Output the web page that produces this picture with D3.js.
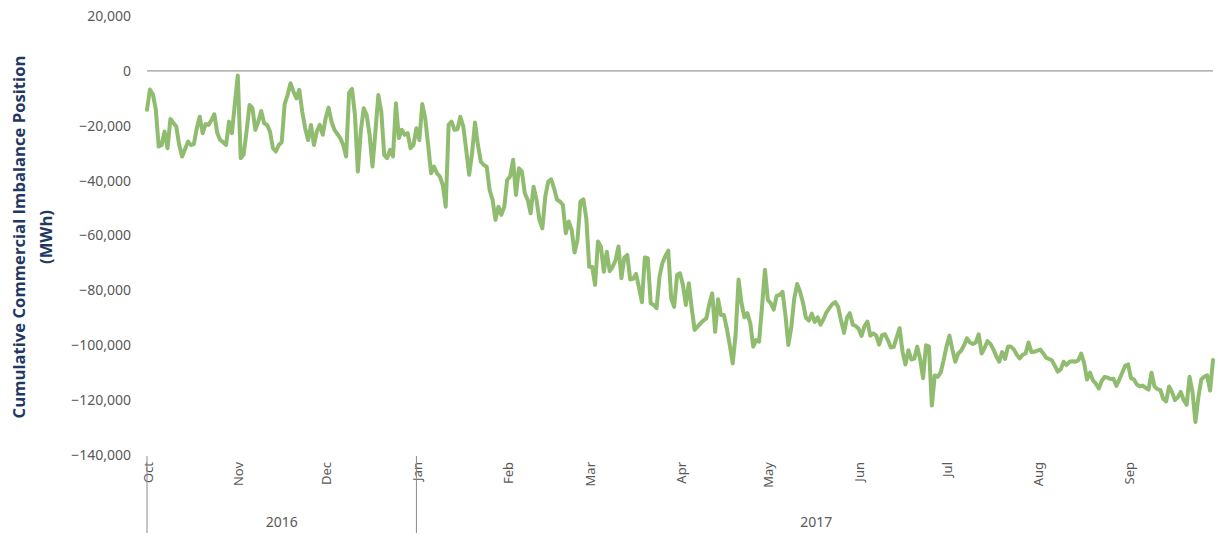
<!DOCTYPE html>
<html><head><meta charset="utf-8">
<script src="https://cdn.jsdelivr.net/npm/d3@7/dist/d3.min.js"></script>
<style>body{margin:0;background:#fff}svg{display:block}</style>
</head><body><svg id="c" width="1218" height="539"></svg>
<script>
// ---- DATA (daily values, MWh, starting 1 Oct 2016) ----
const startDate = "2016-10-01";
const oct2016 = [-14200,-6800,-8500,-14000,-27600,-27000,-22100,-28200,-17500,-19000,-20300,-27000,-31200,-28500,-25800,-27000,-26700,-20900,-16700,-22700,-19400,-19700,-18000,-15800,-22700,-25200,-26000,-27000,-18500,-22700,-12000];
const nov2016 = [-1700,-31800,-30500,-22000,-12400,-13600,-21500,-18500,-14600,-19100,-19700,-22100,-28200,-29400,-27000,-26000,-12100,-8800,-4500,-7500,-10000,-6900,-14800,-20900,-25200,-19700,-27000,-22100,-19700,-23300];
const dec2016 = [-17300,-13400,-18500,-21500,-23000,-24500,-27000,-31200,-8000,-6600,-16000,-36700,-22100,-13600,-16000,-23300,-34900,-22100,-8800,-14800,-30600,-31800,-28800,-31200,-11800,-24500,-21500,-23300,-22700,-28200,-27000];
const jan2017 = [-20900,-25200,-12100,-17300,-27000,-37300,-34900,-37300,-38500,-41600,-49500,-19700,-18500,-21500,-21300,-16700,-20300,-28800,-37900,-30000,-18800,-27000,-33100,-34300,-34900,-43400,-47000,-54300,-49500,-52500,-49500];
const feb2017 = [-39700,-38500,-32400,-45200,-35500,-36700,-44600,-47000,-51900,-42200,-47000,-54300,-57400,-45800,-40400,-39500,-42800,-47000,-47600,-48900,-59200,-54900,-58000,-66200,-61600,-47600,-46800,-53700];
const mar2017 = [-71400,-71400,-78000,-62200,-64100,-73200,-65900,-73000,-71400,-69000,-64000,-75600,-68000,-67100,-76000,-75800,-74000,-79000,-84300,-68000,-68300,-84700,-85300,-86500,-75000,-70000,-67500,-65500,-83000,-86000,-74400];
const apr2017 = [-73800,-78000,-85300,-77400,-86500,-94400,-93200,-92000,-91000,-90200,-85000,-81100,-95100,-83200,-89000,-89000,-94000,-100000,-106600,-96000,-76000,-84700,-89800,-88300,-92000,-100500,-98100,-98700,-86000,-72500];
const may2017 = [-83500,-84700,-87000,-82000,-81700,-80500,-89000,-99900,-93500,-83000,-77700,-80500,-84500,-90000,-91000,-88500,-91500,-89800,-92500,-90500,-88000,-86500,-85000,-84300,-86000,-91000,-95500,-90000,-88300,-92500,-93000];
const jun2017 = [-94000,-96600,-93000,-91400,-96500,-95700,-96500,-99800,-96300,-96000,-98200,-100800,-100600,-97000,-93800,-102500,-107000,-101800,-105200,-104900,-100500,-105000,-112000,-100000,-100500,-122000,-111000,-111500,-110000,-105500];
const jul2017 = [-100500,-96500,-101500,-106000,-103000,-102000,-100000,-97500,-99000,-99500,-99000,-96000,-103000,-101000,-98500,-99500,-101500,-104000,-106000,-102500,-105000,-100500,-100500,-101500,-103500,-104800,-103500,-103000,-99000,-102500,-102400];
const aug2017 = [-102000,-101600,-102900,-104500,-105000,-105500,-107500,-109600,-108800,-106000,-107200,-106000,-105800,-106000,-105500,-103000,-106500,-112500,-110000,-112800,-114000,-115800,-113000,-111500,-111800,-112300,-112200,-114800,-112500,-110000,-107500];
const sep2017 = [-107000,-112000,-112500,-114300,-115000,-114700,-115500,-116200,-110000,-115000,-116000,-116300,-119500,-120500,-115000,-117000,-120000,-119000,-117000,-120000,-121700,-111500,-117000,-128000,-119000,-112500,-111500,-111000,-116500,-105400];

const monthDates  = ["2016-10-01","2016-11-01","2016-12-01","2017-01-01","2017-02-01","2017-03-01","2017-04-01","2017-05-01","2017-06-01","2017-07-01","2017-08-01","2017-09-01"];
const monthLabels = ["Oct","Nov","Dec","Jan","Feb","Mar","Apr","May","Jun","Jul","Aug","Sep"];
const yearLabels  = ["2016","2017"];
const yearStarts  = ["2016-10-01","2017-01-01"];
const yearEnds    = ["2017-01-01","2017-10-01"];
const yTicks = [20000,0,-20000,-40000,-60000,-80000,-100000,-120000,-140000];
const yTitle1 = "Cumulative Commercial Imbalance Position";
const yTitle2 = "(MWh)";

// ---- BUILD ----
const parse = d3.timeParse("%Y-%m-%d");
const allValues = [].concat(oct2016,nov2016,dec2016,jan2017,feb2017,mar2017,apr2017,may2017,jun2017,jul2017,aug2017,sep2017);
const t0 = parse(startDate);
const series = allValues.map((v,i)=>({date:d3.timeDay.offset(t0,i), value:v}));

const svg = d3.select("#c");
const x = d3.scaleTime().domain([t0, parse("2017-09-30")]).range([147,1213]);
const y = d3.scaleLinear().domain([-140000,20000]).range([455,16]);

const gray = "#595959";
const fmt = d3.format(",");

// y tick labels
svg.append("g").selectAll("text").data(yTicks).join("text")
  .attr("x",131).attr("y",d=>y(d)).attr("dy","0.35em")
  .attr("text-anchor","end")
  .style("font-family","'Noto Sans', sans-serif").style("font-size","14px").style("fill",gray)
  .text(d=>fmt(d));

// zero line
svg.append("line")
  .attr("x1",x.range()[0]).attr("x2",x.range()[1])
  .attr("y1",y(0)).attr("y2",y(0))
  .attr("stroke","#9a9a9a").attr("stroke-width",1.2);

// data line
const line = d3.line().x(d=>x(d.date)).y(d=>y(d.value));
svg.append("path").datum(series)
  .attr("d",line).attr("fill","none")
  .attr("stroke","#8fbc6e").attr("stroke-width",4)
  .attr("stroke-linejoin","round").attr("stroke-linecap","round");

// month labels (rotated)
svg.append("g").selectAll("text").data(monthDates).join("text")
  .attr("transform",d=>`translate(${x(parse(d))+1},462) rotate(-90)`)
  .attr("text-anchor","end").attr("dy","0.35em")
  .style("font-family","'Noto Sans', sans-serif").style("font-size","13px").style("fill",gray)
  .text((d,i)=>monthLabels[i]);

// year separators
svg.append("g").selectAll("line").data(yearStarts).join("line")
  .attr("x1",d=>x(parse(d))).attr("x2",d=>x(parse(d)))
  .attr("y1",456).attr("y2",533)
  .attr("stroke","#8c8c8c").attr("stroke-width",1);

// year labels
svg.append("g").selectAll("text").data(yearLabels).join("text")
  .attr("x",(d,i)=>(x(parse(yearStarts[i]))+x(parse(yearEnds[i])))/2)
  .attr("y",522).attr("dy","0.35em").attr("text-anchor","middle")
  .style("font-family","'Noto Sans', sans-serif").style("font-size","14px").style("fill",gray)
  .text(d=>d);

// y title
const tg = svg.append("g").attr("transform","translate(0,237)");
const t1 = tg.append("text").attr("transform","translate(19,0) rotate(-90)")
  .attr("text-anchor","middle").attr("dy","0.35em")
  .style("font-family","'Open Sans', sans-serif").style("font-weight","bold").style("font-size","15px").style("fill","#1f3864")
  .text(yTitle1);
const len = t1.node().getComputedTextLength();
const fs = 15*363/len;
t1.style("font-size", fs.toFixed(2)+"px");
tg.append("text").attr("transform","translate(46.5,0) rotate(-90)")
  .attr("text-anchor","middle").attr("dy","0.35em")
  .style("font-family","'Open Sans', sans-serif").style("font-weight","bold").style("font-size",fs.toFixed(2)+"px").style("fill","#1f3864")
  .text(yTitle2);
</script></body></html>
